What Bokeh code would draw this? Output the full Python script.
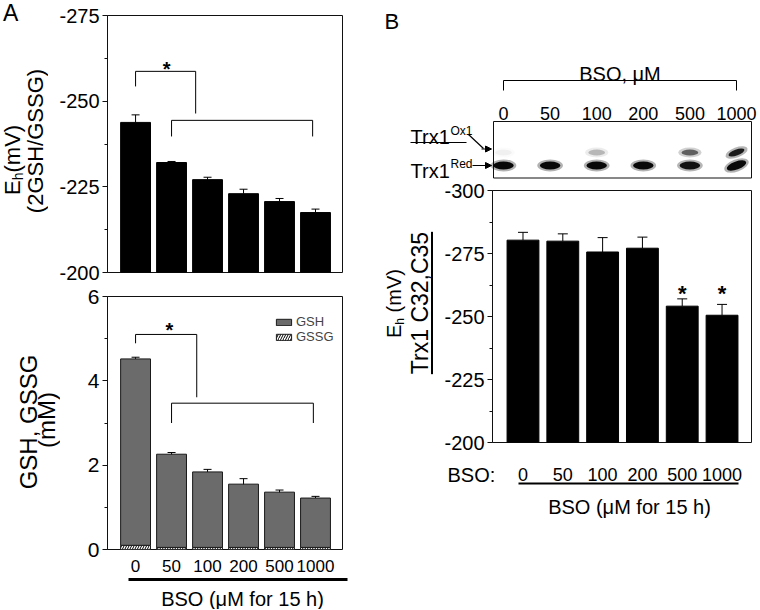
import math
from bokeh.plotting import figure
from bokeh.models import (Range1d, FixedTicker, Arrow, NormalHead, TeeHead, Whisker, Div,
                          ColumnDataSource, Legend, LegendItem)
from bokeh.layouts import row, column
from bokeh.embed import file_html
from bokeh.resources import INLINE
from bokeh.core.properties import value

FONT = "Liberation Sans"
INK = "#111111"

# ---------------- data ----------------
bso_labels = ["0", "50", "100", "200", "500", "1000"]
xpos = list(range(len(bso_labels)))

# Panel A (top): Eh of 2GSH/GSSG couple, mV
eh_gsh = [-243.8, -232.1, -227.1, -223.0, -220.7, -217.5]
eh_gsh_err = [2.2, 0.3, 0.7, 1.3, 0.9, 1.0]
eh_gsh_ticks = [-275, -250, -225, -200]

# Panel A (bottom): GSH and GSSG, mM
gsh_mM = [4.42, 2.21, 1.79, 1.50, 1.31, 1.17]
gssg_mM = [0.10, 0.05, 0.05, 0.05, 0.05, 0.05]
glut_err = [0.04, 0.04, 0.06, 0.13, 0.05, 0.04]
glut_ticks = [0, 2, 4, 6]

# Panel B: Trx1 redox western blot band intensities and Eh, mV
blot_red = [1.0, 1.0, 1.0, 1.0, 0.95, 1.0]
blot_ox = [0.05, 0.0, 0.25, 0.0, 0.6, 0.95]
eh_trx = [-280.3, -279.9, -275.6, -277.1, -254.1, -250.5]
eh_trx_err = [3.1, 2.9, 5.7, 4.4, 2.9, 4.3]
trx_sig = [False, False, False, False, True, True]
eh_trx_ticks = [-300, -275, -250, -225, -200]

# significance brackets (data units)
a1_br1_x = [0, 0, 1.67, 1.67]
a1_br1_y = [-254.3, -258.7, -258.7, -246.4]
a1_br2_x = [1, 1, 4.92, 4.92]
a1_br2_y = [-239.7, -244.4, -244.4, -239.7]
a2_br1_x = [0, 0, 1.7, 1.7]
a2_br1_y = [4.89, 5.10, 5.10, 3.61]
a2_br2_x = [1, 1, 4.94, 4.94]
a2_br2_y = [3.0, 3.47, 3.47, 3.0]


# ---------------- helpers ----------------
def base_fig(w, h, xr, yr, **kw):
    p = figure(width=w, height=h, x_range=Range1d(*xr), y_range=Range1d(*yr),
               output_backend="svg", toolbar_location=None, title=None, **kw)
    p.grid.visible = False
    p.background_fill_color = "white"
    p.border_fill_color = "white"
    return p


def panel(box, frame, xr, yr):
    """Chart panel: box and frame in page pixels; returns fig and px->data mappers."""
    bx0, by0, bx1, by1 = box
    fx0, fy0, fx1, fy1 = frame
    p = base_fig(bx1 - bx0, by1 - by0, xr, yr,
                 min_border_left=fx0 - bx0, min_border_right=bx1 - fx1,
                 min_border_top=fy0 - by0, min_border_bottom=by1 - fy1)
    p.outline_line_color = INK
    p.outline_line_width = 1
    p.outline_line_alpha = 1

    def X(px):
        return xr[0] + (px - fx0) * (xr[1] - xr[0]) / (fx1 - fx0)

    def Y(py):
        return yr[0] + (fy1 - py) * (yr[1] - yr[0]) / (fy1 - fy0)
    return p, X, Y


def V(py):
    """page pixel row -> cell y coordinate (cells use y = -row)."""
    return -py


def cell(box, X=None):
    """Annotation cell: whole canvas is the frame."""
    bx0, by0, bx1, by1 = box
    if X is None:
        X = lambda px: px
    p = base_fig(bx1 - bx0, by1 - by0, (X(bx0), X(bx1)), (-by1, -by0),
                 x_axis_location=None, y_axis_location=None, min_border=0)
    p.outline_line_color = None
    return p, X


def style_y(p, ticks, size):
    ax = p.yaxis[0]
    minor = [(a + b) / 2 for a, b in zip(ticks, ticks[1:])]
    ax.ticker = FixedTicker(ticks=ticks, minor_ticks=minor)
    ax.major_label_overrides = {t: str(t) for t in ticks}
    ax.major_label_text_font = FONT
    ax.major_label_text_font_size = f"{size}px"
    ax.major_label_text_color = "black"
    ax.major_label_standoff = 3
    ax.axis_line_color = INK
    ax.major_tick_line_color = INK
    ax.minor_tick_line_color = INK
    ax.major_tick_out = 5
    ax.major_tick_in = 0
    ax.minor_tick_out = 3
    ax.minor_tick_in = 0


def style_x(ax, size, standoff):
    ax.ticker = FixedTicker(ticks=xpos, minor_ticks=[])
    ax.major_label_overrides = {i: s for i, s in zip(xpos, bso_labels)}
    ax.major_label_text_font = FONT
    ax.major_label_text_font_size = f"{size}px"
    ax.major_label_text_color = "black"
    ax.major_label_standoff = standoff
    ax.axis_line_color = None
    ax.major_tick_line_color = None
    ax.minor_tick_line_color = None


def txt(p, x, y, text, size, align="left", style="normal"):
    xs = x if isinstance(x, list) else [x]
    ys = y if isinstance(y, list) else [y] * len(xs)
    ts = text if isinstance(text, list) else [text] * len(xs)
    p.text(x=xs, y=ys, text=ts, text_font=value(FONT), text_font_size=value(f"{size}px"),
           text_align=align, text_baseline="alphabetic", text_color="black",
           text_font_style=style)


def seg(p, x0, y0, x1, y1, w=1.0, head=False):
    end = NormalHead(size=6, fill_color="black", line_color="black", line_width=1) if head else None
    p.add_layout(Arrow(x_start=x0, y_start=y0, x_end=x1, y_end=y1, start=None, end=end,
                       line_color="black", line_width=w))


# ---- rotated (bottom-to-top) axis titles, as HTML text in a Div cell ----
FONT_CSS = "font-family:'Liberation Sans',Arial,sans-serif;color:#000;white-space:nowrap;"


def vspan(html, base_x, y, size, center_len=None, css=""):
    left = base_x - 0.847 * size
    if center_len:
        pos = f"top:{y + center_len / 2:.1f}px;width:{center_len}px;text-align:center;"
    else:
        pos = f"top:{y:.1f}px;"
    return (f'<div style="position:absolute;left:{left:.1f}px;{pos}transform:rotate(-90deg);'
            f'transform-origin:0 0;{FONT_CSS}font-size:{size}px;line-height:{size}px;{css}">'
            f'{html}</div>')


def hspan(html, left, baseline, size):
    return (f'<div style="position:absolute;left:{left}px;top:{baseline - 0.847 * size:.1f}px;'
            f'{FONT_CSS}font-size:{size}px;line-height:{size}px;">{html}</div>')


def div_cell(box, parts):
    bx0, by0, bx1, by1 = box
    w, h = bx1 - bx0, by1 - by0
    html = (f'<div style="position:relative;width:{w}px;height:{h}px;overflow:hidden;'
            f'background:#fff;">' + "".join(parts) + "</div>")
    return Div(text=html, width=w, height=h, margin=0)


def sub(t, size, drop):
    return f'<span style="font-size:{size}px;position:relative;top:{drop}px;">{t}</span>'


# ================= Panel A top =================
cA1 = div_cell((0, 0, 48, 284), [
    hspan("A", 3, 21, 23),
    vspan("E" + sub("h", 14, 3) + "(mV)", 21, 195, 22),
    vspan("(2GSH/GSSG)", 44, 141, 22, center_len=270),
])

pA1, X, Y = panel((48, 0, 383, 284), (107, 15, 342, 272), (-0.78, 5.75), (-200, -275))
pA1.xaxis.visible = False
style_y(pA1, eh_gsh_ticks, 20)
pA1.vbar(x=xpos, width=0.83, bottom=-200, top=eh_gsh, fill_color="black", line_color="black")
srcA1 = ColumnDataSource(dict(x=xpos, lo=eh_gsh, hi=[v - e for v, e in zip(eh_gsh, eh_gsh_err)]))
pA1.add_layout(Whisker(source=srcA1, base="x", lower="lo", upper="hi", lower_head=None,
                       upper_head=TeeHead(size=8, line_color="black", line_width=1),
                       line_color="black", line_width=1))
pA1.line(x=a1_br1_x, y=a1_br1_y, line_color="black", line_width=1)
pA1.line(x=a1_br2_x, y=a1_br2_y, line_color="black", line_width=1)
txt(pA1, 0.86, Y(68.5), "*", 20, align="center", style="bold")

# ================= Panel A bottom =================
cA2 = div_cell((0, 284, 60, 576), [
    vspan("GSH, GSSG", 37, 422 - 284, 24, center_len=260),
    vspan("(mM)", 55, 420 - 284, 24, center_len=260),
])

pA2, X, Y = panel((60, 284, 383, 576), (107, 296, 342, 549), (-0.78, 5.75), (0, 6))
style_y(pA2, glut_ticks, 21)
style_x(pA2.xaxis[0], 17, 4)
total = [a + b for a, b in zip(gsh_mM, gssg_mM)]
r_gssg = pA2.vbar(x=xpos, width=0.83, bottom=0, top=gssg_mM, fill_color="white",
                  line_color="#1a1a1a", hatch_pattern="/", hatch_color="black",
                  hatch_scale=5, hatch_weight=1)
r_gsh = pA2.vbar(x=xpos, width=0.83, bottom=gssg_mM, top=total, fill_color="#6b6b6b",
                 line_color="#1a1a1a")
srcA2 = ColumnDataSource(dict(x=xpos, lo=[t - e for t, e in zip(total, glut_err)],
                              hi=[t + e for t, e in zip(total, glut_err)]))
pA2.add_layout(Whisker(source=srcA2, base="x", lower="lo", upper="hi",
                       lower_head=TeeHead(size=8, line_color="black", line_width=1),
                       upper_head=TeeHead(size=8, line_color="black", line_width=1),
                       line_color="black", line_width=1))
pA2.line(x=a2_br1_x, y=a2_br1_y, line_color="black", line_width=1)
pA2.line(x=a2_br2_x, y=a2_br2_y, line_color="black", line_width=1)
txt(pA2, 0.94, Y(329.5), "*", 20, align="center", style="bold")
leg = Legend(items=[LegendItem(label="GSH", renderers=[r_gsh]),
                    LegendItem(label="GSSG", renderers=[r_gssg])],
             location=(167, 205), border_line_color=None, background_fill_alpha=0,
             label_text_font=FONT, label_text_font_size="13px", glyph_width=19, glyph_height=8,
             label_height=14, label_standoff=3, spacing=0, padding=0, margin=0)
pA2.add_layout(leg)

cA3, _ = cell((0, 576, 383, 609))
seg(cA3, 128, V(579), 347, V(579), w=3)
txt(cA3, 242, V(598), "BSO (\u03bcM for 15 h)", 20, align="center")

# ================= Panel B blot =================
lane = lambda px: (px - 503) / 46.6
cB1, L = cell((383, 0, 759, 179), X=lane)
txt(cB1, L(384), V(21), "B", 22)
txt(cB1, 2.5, V(73), "BSO, \u03bcM", 20, align="center")
cB1.line(x=[xpos[0], xpos[0], xpos[-1], xpos[-1]], y=[V(90), V(80), V(80), V(90)],
         line_color="black", line_width=1)
txt(cB1, xpos, V(113), bso_labels, 18, align="center")
cB1.quad(left=L(493), right=L(751), top=V(121), bottom=V(177.5), fill_color=None,
         line_color=INK, line_width=1)
tilt = [0, 0, 0, 0, 0, 0.35]
red_y = [V(165)] * len(xpos)
ox_y = [V(152)] * len(xpos)
cB1.ellipse(x=xpos, y=red_y, width=0.55, height=12, angle=tilt, fill_color="black",
            fill_alpha=[v * 0.3 for v in blot_red], line_color=None)
cB1.ellipse(x=xpos, y=red_y, width=0.44, height=8, angle=tilt, fill_color="black",
            fill_alpha=[v * 0.95 for v in blot_red], line_color=None)
cB1.ellipse(x=xpos, y=ox_y, width=0.5, height=10, angle=tilt, fill_color="black",
            fill_alpha=[v * 0.3 for v in blot_ox], line_color=None)
cB1.ellipse(x=xpos, y=ox_y, width=0.36, height=6, angle=tilt, fill_color="black",
            fill_alpha=[v * 0.9 for v in blot_ox], line_color=None)
txt(cB1, L(410), V(136), "Trx1", 20)
txt(cB1, L(450), V(130), "Ox1", 12)
seg(cB1, L(410), V(142), L(466), V(142), w=1.2)
seg(cB1, L(468), V(134), L(483), V(148), w=1.2)
seg(cB1, L(481), V(148.5), L(491), V(148.5), w=1.2, head=True)
txt(cB1, L(410), V(170), "Trx1", 20)
txt(cB1, L(450), V(163), "Red", 12)
seg(cB1, L(472), V(165), L(491), V(165), w=1.2, head=True)

# ================= Panel B Eh =================
cB2 = div_cell((383, 179, 437, 456), [
    vspan("E" + sub("h", 12, 3) + " (mV)", 401 - 383, 338 - 179, 20),
    vspan("Trx1 C32,C35", 428 - 383, 302.5 - 179, 23, center_len=230,
          css="text-decoration:underline;text-underline-offset:3px;"
              "text-decoration-thickness:1.5px;"),
])

pB2, X, Y = panel((437, 179, 759, 456), (492, 190, 751, 442), (-0.766, 5.74), (-200, -300))
pB2.xaxis.visible = False
style_y(pB2, eh_trx_ticks, 20)
pB2.vbar(x=xpos, width=0.8, bottom=-200, top=eh_trx, fill_color="black", line_color="black")
srcB2 = ColumnDataSource(dict(x=xpos, lo=eh_trx, hi=[v - e for v, e in zip(eh_trx, eh_trx_err)]))
pB2.add_layout(Whisker(source=srcB2, base="x", lower="lo", upper="hi", lower_head=None,
                       upper_head=TeeHead(size=10, line_color="black", line_width=1),
                       line_color="black", line_width=1))
sig_x = [i for i, s in zip(xpos, trx_sig) if s]
star_level = min(v - e for v, e, s in zip(eh_trx, eh_trx_err, trx_sig) if s) - 2.0
txt(pB2, sig_x, star_level, "*", 22, align="center", style="bold")

cB3, XB = cell((383, 456, 759, 609), X=X)
txt(cB3, XB(447), V(474), "BSO:", 20)
txt(cB3, xpos, V(474), bso_labels, 18, align="center")
seg(cB3, XB(518), V(483), XB(738), V(483), w=2)
txt(cB3, XB(629), V(506), "BSO (\u03bcM for 15 h)", 20, align="center")

left = column(row(cA1, pA1), row(cA2, pA2), cA3)
right = column(cB1, row(cB2, pB2), cB3)
layout = row(left, right)
open("out.html", "w").write(file_html(layout, INLINE))
